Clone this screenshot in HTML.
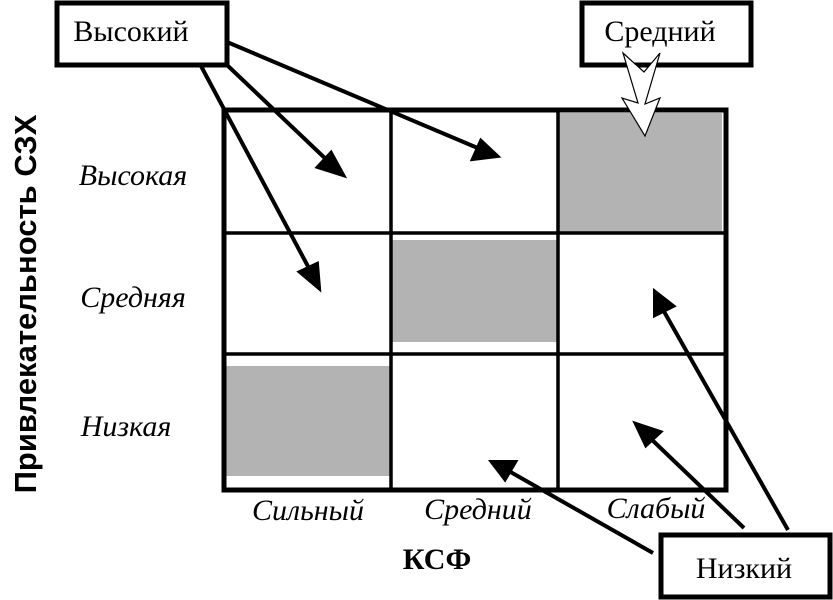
<!DOCTYPE html>
<html><head><meta charset="utf-8"><style>
html,body{margin:0;padding:0;background:#fff;}
svg{display:block}
.s{font-family:"Liberation Serif",serif;}
</style></head><body>
<svg width="833" height="600" xmlns="http://www.w3.org/2000/svg">
<rect x="558" y="113" width="164" height="119" fill="#b3b3b3"/>
<rect x="391" y="240" width="168" height="102" fill="#b3b3b3"/>
<rect x="225" y="366" width="167" height="110" fill="#b3b3b3"/>
<g stroke="#000" stroke-width="3.5">
<line x1="391" y1="110" x2="391" y2="490"/>
<line x1="558" y1="110" x2="558" y2="490"/>
<line x1="224" y1="233" x2="726" y2="233"/>
<line x1="224" y1="354" x2="726" y2="354"/>
</g>
<rect x="224" y="110" width="502" height="380" fill="none" stroke="#000" stroke-width="5"/>
<rect x="57" y="3" width="170" height="62" fill="#fff" stroke="#000" stroke-width="5"/>
<rect x="582" y="3" width="169" height="62" fill="#fff" stroke="#000" stroke-width="5"/>
<rect x="661" y="535" width="169" height="62" fill="#fff" stroke="#000" stroke-width="5"/>
<text x="131" y="41" class="s" font-size="30" text-anchor="middle">Высокий</text>
<text x="660" y="41" class="s" font-size="30" text-anchor="middle">Средний</text>
<text x="744" y="578" class="s" font-size="30" text-anchor="middle">Низкий</text>
<g class="s" font-size="30" font-style="italic" text-anchor="middle">
<text x="133" y="185">Высокая</text>
<text x="133" y="307">Средняя</text>
<text x="126" y="436">Низкая</text>
<text x="308" y="520">Сильный</text>
<text x="478" y="519">Средний</text>
<text x="656" y="518">Слабый</text>
</g>
<text x="437" y="569" class="s" font-size="30" font-weight="bold" text-anchor="middle">КСФ</text>
<text transform="translate(36,304) rotate(-90)" font-family="'Liberation Sans',sans-serif" font-size="31" font-weight="bold" text-anchor="middle">Привлекательность СЗХ</text>
<g stroke="#000" stroke-width="4" fill="#000">
<line x1="227" y1="42" x2="480" y2="149"/>
<polygon points="497,156 473,159 481,141"/>
<line x1="227" y1="65" x2="330" y2="163"/>
<polygon points="343,175 318,167 331,153"/>
<line x1="201" y1="66" x2="311" y2="272"/>
<polygon points="319,288 300,272 317,264"/>
<line x1="653" y1="553" x2="507" y2="470"/>
<polygon points="492,462 515,462 505,479"/>
<line x1="744" y1="528" x2="648" y2="436"/>
<polygon points="636,424 660,432 646,445"/>
<line x1="788" y1="530" x2="662" y2="308"/>
<polygon points="655,292 673,306 655,315"/>
</g>
<polygon points="623,53 644,72 660,53 645,104 660,98 645,136 622,98 638,103" fill="#fff" stroke="#000" stroke-width="1.2"/>
</svg>
</body></html>
